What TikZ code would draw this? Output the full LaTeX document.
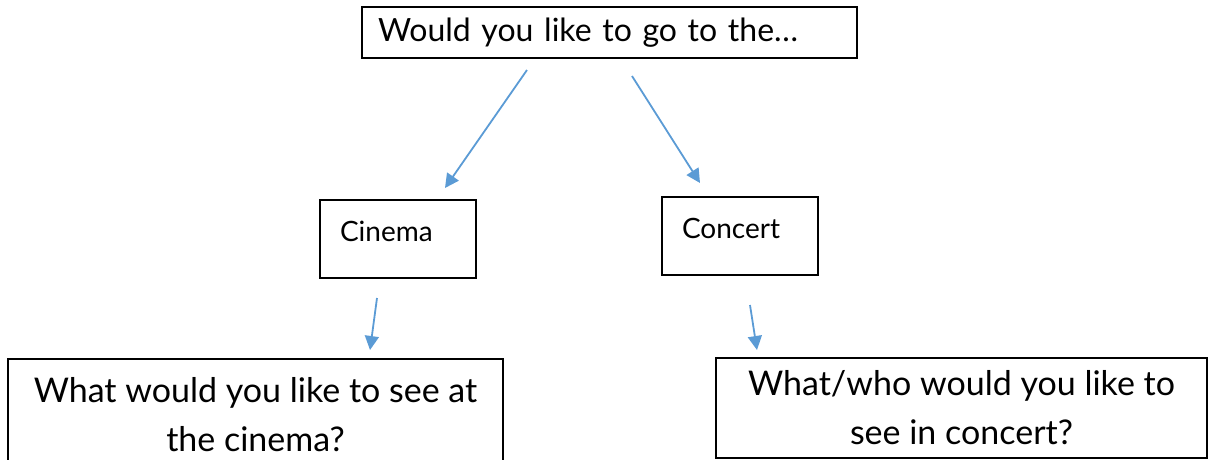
\documentclass[tikz,border=0pt]{standalone}
\usepackage{fontspec}
\setmainfont{Lato}
\usetikzlibrary{arrows.meta}
\definecolor{arrowblue}{HTML}{5B9BD5}
\tikzset{
    box/.style={draw=black, line width=1.5pt, inner sep=0pt},
    choice/.style={box, text width=116pt, inner xsep=20pt, align=left,
        minimum height=78pt, text depth=16pt, font=\fontsize{28}{32}\selectfont},
    question/.style={box, align=center, font=\fontsize{34}{49}\selectfont},
    link/.style={arrowblue, line width=1.8pt, -{Triangle[length=14pt,width=14pt]}}
}
\begin{document}
\begin{tikzpicture}[x=1pt, y=-1pt]
    \useasboundingbox (0,0) rectangle (1211,459);

    % Top question
    \node[box, text width=463pt, inner xsep=16pt, align=left, minimum height=51pt,
        font=\fontsize{32}{36}\selectfont] (go) at (609.5,32.5)
        {Would you like to go to the\dots};

    % Two choices
    \node[choice] (cinema) at (398,239) {Cinema};
    \node[choice] (concert) at (740,236) {Concert};

    % Follow-up questions
    \node[question, minimum width=495pt, minimum height=111pt] (seecinema) at (255.5,414.5)
        {What would you like to see at\\the cinema?};
    \node[question, minimum width=491pt, minimum height=100pt] (seeconcert) at (961.5,408)
        {What/who would you like to\\see in concert?};

    % Arrow ends
    \coordinate (a1) at (527,70);   \coordinate (b1) at (445,188);
    \coordinate (a2) at (632,76);   \coordinate (b2) at (700,183);
    \coordinate (a3) at (377,298);  \coordinate (b3) at (370,350);
    \coordinate (a4) at (750,305);  \coordinate (b4) at (757,350);

    \foreach \i in {1,2,3,4} {
        \draw[link] (a\i) -- (b\i);
    }
\end{tikzpicture}
\end{document}
